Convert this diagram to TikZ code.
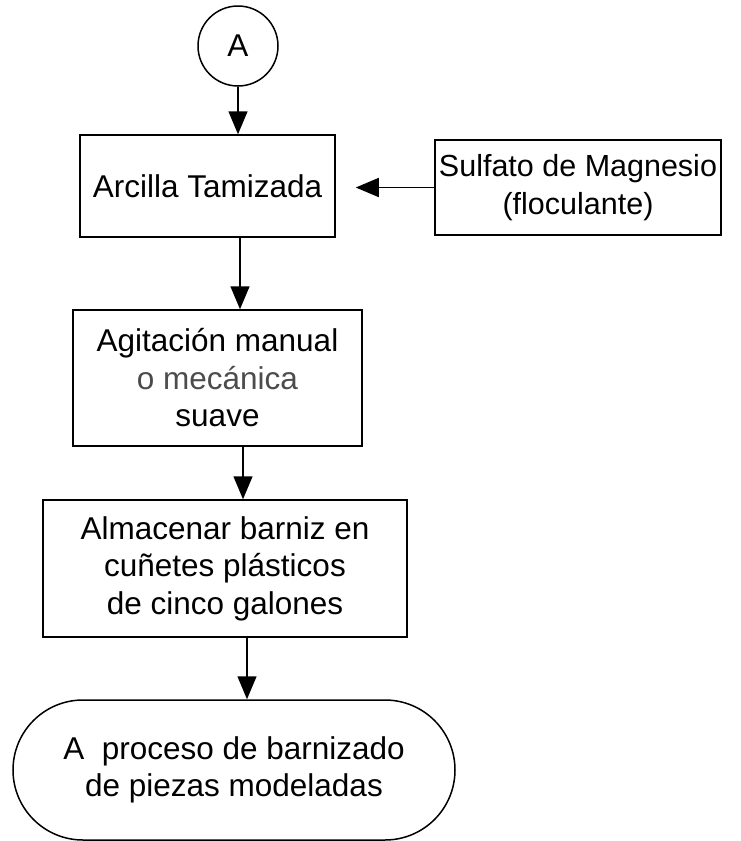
\documentclass[tikz,border=0pt]{standalone}
\usepackage{fontspec}
\setmainfont{Liberation Sans}
\usetikzlibrary{shapes.misc,arrows.meta}
\begin{document}
\begin{tikzpicture}[x=1pt,y=-1pt,
  txt/.style={font=\fontsize{31.5}{37.5}\selectfont, align=center, inner sep=0pt},
  box/.style={txt, draw, line width=1.5pt, rectangle},
  arr/.style={line width=1.5pt, -{Triangle[length=23pt,width=19pt]}}]
\fill[white] (0,0) rectangle (741,841);
\useasboundingbox (0,0) rectangle (741,841);
\node[txt, draw, line width=1.5pt, circle, minimum size=80pt] (circA) at (238,46) {A};
\node[box, minimum width=255pt, minimum height=102pt] (arc) at (207.5,186) {Arcilla Tamizada};
\node[box, font=\fontsize{30.5}{37.5}\selectfont, minimum width=286pt, minimum height=95pt] (sulf) at (578,187.5) {Sulfato de Magnesio\\(floculante)};
\node[box, minimum width=289pt, minimum height=136pt] (agit) at (217.5,378) {Agitación manual\\\textcolor{black!70}{o mecánica}\\suave};
\node[box, minimum width=364pt, minimum height=137pt] (alm) at (225,568.5) {Almacenar barniz en\\cuñetes plásticos\\de cinco galones};
\node[txt, draw, line width=1.5pt, rounded rectangle, rounded rectangle arc length=180, minimum width=442pt, minimum height=140pt] (term) at (234,770) {A\ \ proceso de barnizado\\de piezas modeladas};
\draw[arr] (circA.south) -- (arc.north -| circA.south);
\draw[arr] ([xshift=32.5pt]arc.south) -- ([xshift=22.5pt]agit.north);
\draw[arr] ([xshift=25.5pt]agit.south) -- ([xshift=18pt]alm.north);
\draw[arr] ([xshift=22pt]alm.south) -- ([xshift=13pt]term.north);
\draw[arr, shorten >=20pt] (sulf.west) -- (sulf.west -| arc.east);
\end{tikzpicture}
\end{document}
